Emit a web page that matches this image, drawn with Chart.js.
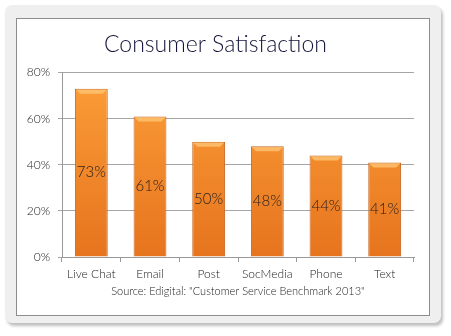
<!DOCTYPE html>
<html>
<head>
<meta charset="utf-8">
<script src="https://cdn.jsdelivr.net/npm/chart.js@4/dist/chart.umd.min.js"></script>
<style>
  html, body { margin: 0; padding: 0; background: #fff; }
  body { width: 451px; height: 336px; position: relative; overflow: hidden; }
  .panel {
    position: absolute; left: 5px; top: 5px; width: 436px; height: 318px;
    background: #efefef; border-radius: 7px;
    box-shadow: 2px 3px 3px rgba(0,0,0,0.25);
  }
  .frame {
    position: absolute; left: 16px; top: 18px; width: 412px; height: 296px;
    background: #fff; border: 1px solid #8c8c8c;
  }
  .frame canvas { display: block; }
</style>
</head>
<body>
<div class="panel"></div>
<div class="frame"><canvas id="myChart" width="412" height="296"></canvas></div>
<script>
const channels = ['Live Chat', 'Email', 'Post', 'SocMedia', 'Phone', 'Text'];
const satisfaction = [73, 61, 50, 48, 44, 41];
const yTicks = [0, 20, 40, 60, 80];

const ctx = document.getElementById('myChart');

// writes each value in the middle of its bar
const barLabels = {
    id: 'barLabels',
    afterDatasetsDraw(chart) {
        const c = chart.ctx;
        const meta = chart.getDatasetMeta(0);
        c.save();
        meta.data.forEach((bar, i) => {
            // light bevel along the top of the bar
            const half = bar.width / 2;
            c.fillStyle = 'rgba(255, 200, 120, 0.75)';
            c.beginPath();
            c.moveTo(bar.x - half + 1, bar.y + 1);
            c.lineTo(bar.x + half - 1, bar.y + 1);
            c.lineTo(bar.x + half - 5, bar.y + 5);
            c.lineTo(bar.x - half + 5, bar.y + 5);
            c.closePath();
            c.fill();

            c.fillStyle = '#2a2020';
            c.font = '300 15px Lato';
            c.textAlign = 'center';
            c.textBaseline = 'middle';
            c.fillText(satisfaction[i] + '%', bar.x, (bar.y + bar.base) / 2);
        });
        c.restore();
    }
};

function barFill(context) {
    const area = context.chart.chartArea;
    if (!area) return '#f08a2a';
    const g = context.chart.ctx.createLinearGradient(0, area.top, 0, area.bottom);
    g.addColorStop(0, '#fc9e38');
    g.addColorStop(1, '#e6741e');
    return g;
}

new Chart(ctx, {
    type: 'bar',
    data: {
        labels: channels,
        datasets: [{
            data: satisfaction,
            backgroundColor: barFill,
            borderColor: '#c9661c',
            borderWidth: 1,
            categoryPercentage: 1,
            barPercentage: 0.56
        }]
    },
    options: {
        responsive: false,
        animation: false,
        layout: { padding: { left: 0, right: 15, top: 0, bottom: 18 } },
        plugins: {
            legend: { display: false },
            tooltip: { enabled: false },
            title: {
                display: true,
                text: 'Consumer Satisfaction',
                color: '#14143a',
                font: { family: 'Lato', size: 23, weight: 300 },
                padding: { top: 12, bottom: 14 }
            }
        },
        scales: {
            x: {
                grid: {
                    offset: true,
                    drawOnChartArea: false,
                    tickLength: 5,
                    color: '#999'
                },
                border: { color: '#999' },
                ticks: {
                    color: '#222',
                    font: { family: 'Lato', size: 12, weight: 300, lineHeight: 1 },
                    padding: 6
                },
                title: {
                    display: true,
                    text: 'Source: Edigital: "Customer Service Benchmark 2013"',
                    color: '#222',
                    font: { family: 'Lato', size: 11, weight: 300, lineHeight: 1 },
                    padding: { top: 0, bottom: 0 }
                }
            },
            y: {
                min: 0,
                max: 80,
                afterBuildTicks(axis) {
                    axis.ticks = yTicks.map(v => ({ value: v }));
                },
                afterFit(axis) { axis.width = 45; },
                grid: { color: '#a6a6a6', tickLength: 4 },
                border: { color: '#999' },
                ticks: {
                    color: '#222',
                    font: { family: 'Lato', size: 12, weight: 300 },
                    padding: 8,
                    callback: v => v + '%'
                }
            }
        }
    },
    plugins: [barLabels]
});
</script>
</body>
</html>
